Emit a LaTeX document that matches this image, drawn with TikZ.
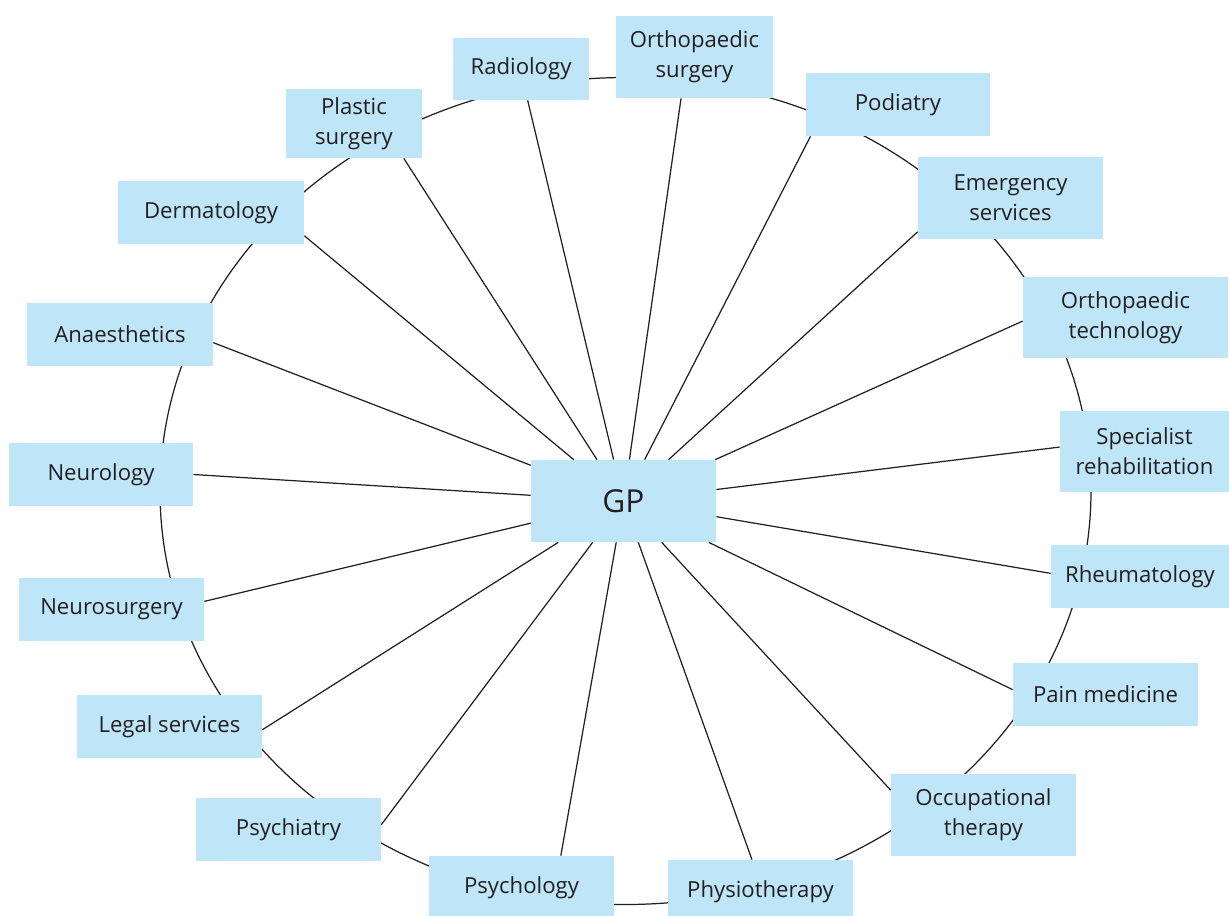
\documentclass[tikz,border=0pt]{standalone}
\usepackage{fontspec}
\setmainfont{Open Sans}
\definecolor{boxblue}{RGB}{190,230,248}
\definecolor{ink}{RGB}{35,31,32}
\tikzset{
	dept/.style={fill=boxblue, text=ink, inner sep=0pt, align=center,
		minimum width=3.7cm, minimum height=1.26cm,
		font=\fontsize{12.6}{17}\selectfont},
	link/.style={draw=ink, line width=0.7pt}
}
\begin{document}
\begin{tikzpicture}
	\useasboundingbox (0,0) rectangle (24.58,-18.32);
	% Ellipse hinter den Kaesten
	\draw[link] (12.51,-9.82) ellipse (9.31cm and 8.27cm);

	% Mitte
	\node[dept, minimum height=1.64cm, font=\fontsize{18}{20}\selectfont]
		(gp) at (12.47,-10.02) {GP};

	% Kaesten im Uhrzeigersinn
	\node[dept, minimum width=2.72cm, minimum height=1.24cm] (radiology) at (10.42,-1.38) {Radiology};
	\node[dept, minimum width=3.14cm, minimum height=1.64cm] (orthsurgery) at (13.89,-1.14) {Orthopaedic\\surgery};
	\node[dept, minimum width=3.68cm] (podiatry) at (17.96,-2.09) {Podiatry};
	\node[dept, minimum height=1.64cm] (emergency) at (20.21,-3.96) {Emergency\\services};
	\node[dept, minimum width=4.1cm, minimum height=1.62cm] (orthtech) at (22.51,-6.35) {Orthopaedic\\technology};
	\node[dept, minimum width=3.38cm, minimum height=1.62cm] (rehab) at (22.89,-9.03) {Specialist\\rehabilitation};
	\node[dept, minimum width=3.56cm] (rheumatology) at (22.8,-11.53) {Rheumatology};
	\node[dept] (pain) at (22.11,-13.89) {Pain medicine};
	\node[dept, minimum height=1.64cm] (occupational) at (19.67,-16.3) {Occupational\\therapy};
	\node[dept] (physiotherapy) at (15.21,-17.83) {Physiotherapy};
	\node[dept] (psychology) at (10.43,-17.75) {Psychology};
	\node[dept] (psychiatry) at (5.77,-16.59) {Psychiatry};
	\node[dept] (legal) at (3.39,-14.53) {Legal services};
	\node[dept] (neurosurgery) at (2.23,-12.19) {Neurosurgery};
	\node[dept, minimum width=3.68cm] (neurology) at (2.02,-9.49) {Neurology};
	\node[dept, minimum width=3.72cm] (anaesthetics) at (2.4,-6.69) {Anaesthetics};
	\node[dept, minimum width=3.72cm] (dermatology) at (4.22,-4.25) {Dermatology};
	\node[dept, minimum width=2.72cm, minimum height=1.38cm] (plastic) at (7.08,-2.47) {Plastic\\surgery};

	% Verbindungen zum GP (Name/Winkel am Kasten)
	\foreach \n/\w in {radiology/282, orthsurgery/252, podiatry/200,
		emergency/200, orthtech/182.5, rehab/177, rheumatology/178,
		pain/177, occupational/165, physiotherapy/105, psychology/39,
		psychiatry/3, legal/358, neurosurgery/5, neurology/0,
		anaesthetics/355, dermatology/346, plastic/325}
		\draw[link] (gp) -- (\n.\w);
\end{tikzpicture}
\end{document}
